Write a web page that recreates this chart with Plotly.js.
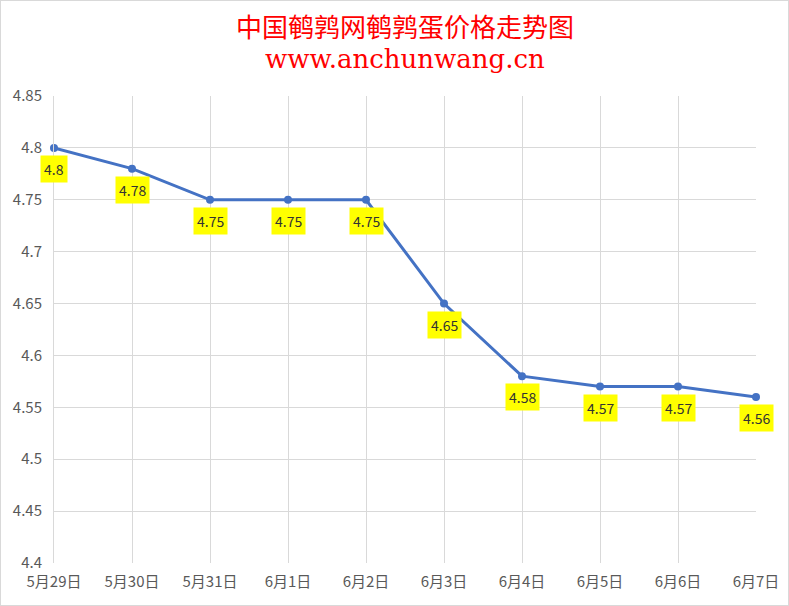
<!DOCTYPE html>
<html>
<head>
<meta charset="utf-8">
<script src="https://cdn.plot.ly/plotly-3.0.1.min.js"></script>
<style>
  html, body { margin: 0; padding: 0; background: #ffffff; }
  #chart { width: 787px; height: 604px; border: 1px solid #d9d9d9; }
</style>
</head>
<body>
<div id="chart"></div>
<script>
// dates and prices
var dates = ['5月29日', '5月30日', '5月31日', '6月1日', '6月2日', '6月3日', '6月4日', '6月5日', '6月6日', '6月7日'];
var prices = [4.8, 4.78, 4.75, 4.75, 4.75, 4.65, 4.58, 4.57, 4.57, 4.56];
var yTicks = [4.4, 4.45, 4.5, 4.55, 4.6, 4.65, 4.7, 4.75, 4.8, 4.85];

var idx = dates.map((d, i) => i);
var lineColor = '#4472C4';
var labelFont = 'Noto Sans CJK SC, sans-serif';

var trace = {
    type: 'scatter',
    mode: 'lines+markers',
    x: idx,
    y: prices,
    line: {color: lineColor, width: 3},
    marker: {color: lineColor, size: 8},
    cliponaxis: false,
    hoverinfo: 'skip',
};

// yellow value labels under each point
var labels = prices.map((p, i) => ({
    x: i, y: p, xref: 'x', yref: 'y',
    text: String(p),
    showarrow: false,
    yshift: -21,
    bgcolor: '#ffff00',
    borderpad: 3,
    font: {family: labelFont, size: 14, color: '#333333'},
}));

var titleAnn = [
    {text: '中国鹌鹑网鹌鹑蛋价格走势图', y: 27, size: 26},
    {text: 'www.anchunwang.cn', y: 58, size: 26},
].map(t => ({
    text: t.text,
    xref: 'paper', yref: 'paper',
    x: 0.5,
    // pixel position from top turned into paper units
    y: 1 + (95 - t.y) / 467,
    xanchor: 'center', yanchor: 'middle',
    showarrow: false,
    font: {family: 'DejaVu Serif, Noto Sans CJK SC, serif', size: t.size, color: '#ff0000'},
}));

var layout = {
    width: 787, height: 604,
    margin: {l: 53, r: 32, t: 95, b: 42},
    paper_bgcolor: '#ffffff',
    plot_bgcolor: '#ffffff',
    showlegend: false,
    xaxis: {
        range: [0, 9],
        tickvals: idx,
        ticktext: dates,
        showgrid: true,
        gridcolor: '#d9d9d9',
        zeroline: false,
        showline: false,
        ticks: '',
        ticklabelstandoff: 8,
        tickfont: {family: labelFont, size: 15, color: '#595959'},
        fixedrange: true,
    },
    yaxis: {
        range: [4.4, 4.85],
        tickvals: yTicks,
        tickformat: '.2~f',
        showgrid: true,
        gridcolor: '#d9d9d9',
        zeroline: false,
        showline: true,
        linecolor: '#d9d9d9',
        linewidth: 1,
        ticks: '',
        ticklabelstandoff: 8,
        tickfont: {family: labelFont, size: 15, color: '#595959'},
        fixedrange: true,
    },
    annotations: labels.concat(titleAnn),
};

Plotly.newPlot('chart', [trace], layout, {displayModeBar: false, staticPlot: true});
</script>
</body>
</html>
